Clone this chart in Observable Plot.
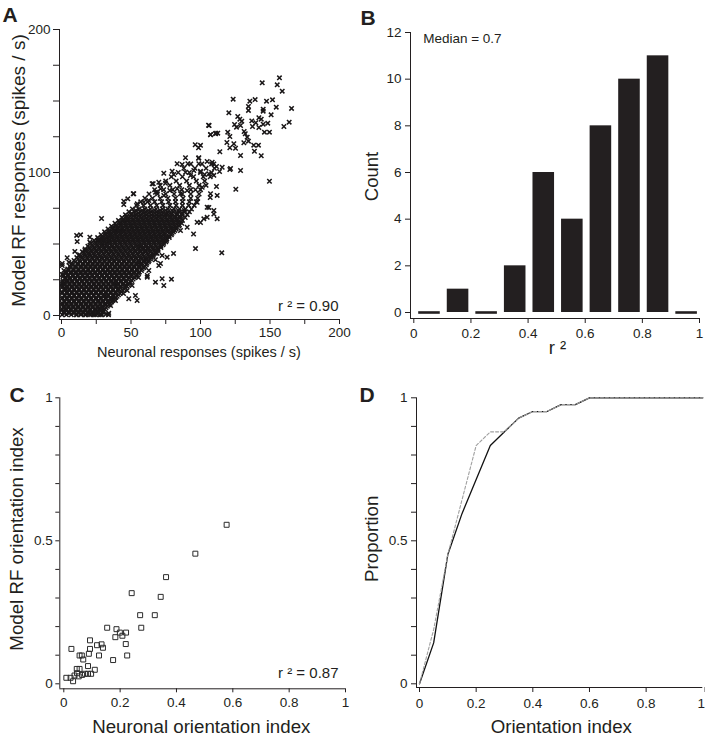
<!DOCTYPE html>
<html><head><meta charset="utf-8">
<script src="https://cdn.jsdelivr.net/npm/d3@7"></script>
<script src="https://cdn.jsdelivr.net/npm/@observablehq/plot@0.6"></script>
<style>
body{margin:0;background:#fff;}
#fig{position:relative;width:705px;height:736px;overflow:hidden;}
#fig > div{position:absolute;}
</style></head><body><div id="fig"></div>
<script>
// ---------- Panel A data: neuronal vs model RF responses (spikes/s) ----------
const aSparse = [
 [156.8,166.2],[144.4,162.7],[155.2,161.3],[158.8,156.9],[123.5,151.3],[135.5,149.9],[139.3,151],[147.5,149.9],[151.8,150.8],
 [134.5,146.2],[134.5,143.4],[145.1,144.3],[145.1,142.9],[154.5,145.7],[165.5,144.8],[120.4,141.7],[150.8,140.3],[126.8,139.2],
 [128.3,137.3],[129.7,135.9],[136.9,136.1],[139.8,134.8],[137.4,132.2],[142,138.3],[143.7,137.3],[145.1,133.8],[148.4,134.5],
 [142,131.5],[163.8,135.2],[160,132.2],[106.2,132.9],[124.5,133.6],[125.9,131.7],[128.8,132.9],[131.4,128.7],[132.2,127.1],
 [146,128.2],[149.6,128.2],[107.2,126.6],[111,127.5],[112.4,127.5],[119.6,128.2],[121.1,125.2],[133.6,124.7],[134.5,121.9],
 [124,120.1],[131.2,120.8],[125.2,117],[121.1,117.3],[138.3,119.1],[141.7,119.1],[138.8,114.9],[96.2,119.4],[98.6,117.3],
 [113.9,114.5],[128.8,111.9],[143.7,111.7],[98.6,110],[149.6,93.9],[125.4,88.3],[128.8,101.4],[121.1,102.1],
 [119,121],[100,119],[105.8,133],[121.6,102.8],[113.7,100.7],[109.6,98],[115.6,103.7],[109.6,106],[112,84],[107,82.5],
 [106,75.5],[109.6,71],[104.8,68.7],[100,65],[95,57],[96.4,46.8],[76,40.8],[61.7,28],[80.6,43.4],[85.6,59.4],[90.4,61.7],
 [68.8,43.4],[71.2,36.4],[59,33.6],[55.4,26.6],[50.8,21],[44.6,15.4],[38.8,10.5],[35.3,7],[30.2,3.5],
 [115.3,43.8],[79.1,25.4],[28.8,67.8],[33.8,0.5],
 [52,85.1],[44.8,77.6],[65.2,92.1],[68.8,86.2],[73.6,83.9],[13.7,56.4],[20.4,54.8],[20.4,51.3],[11.3,51.7],[25.7,52.4],
 [29.3,52.9],[29.3,50.1],[34,51.7],[9.6,44.8],[16.8,45.5],[19.6,43.6],[12.4,42],[4.1,40.4],[0.5,35],[1.7,31.5],[5.3,37.3],
 [0.5,28.7],[4.1,25],[0.5,22.2],[2.9,18.7],[67.6,44.3],[64,41.3],[72.4,42],[56.8,47.8],[60.4,45.5],[60.4,39],[55.6,36.6],
 [67.6,39],[70,35],[62.8,31.5],[61.7,26.8],[67.6,23.3],[72.4,25.7],[73.6,21],[38.8,22.2],[46,21],[41.2,18.7],[47.3,17.5],
 [53.2,14],[48.4,11.7],[54.4,10.5],[31.7,14],[36.5,11.7],[26.8,10.5],[19.6,5.8],[26.8,4.7],[34,1.6],[29.3,2.3],
 [11,0.6],[14,0.8],[17,0.6],[20,0.8],[23,0.6],[26,0.8],[29,0.6],[32,0.8],[10.9,56],[0.5,36.4],[35.3,56],[38.8,59.4],[44.6,66.4],[54.5,78.1],
 [107.2,126.4],[110.8,127.1],[89.2,110.3],[98.8,110.3],[83.2,106.1],[86.8,105.6],[90.9,106.1],[98.8,106.1],[104.8,107.7],
 [108.4,107.2],[111.5,104.2],[73.6,99.5],[79.6,100.9],[80.8,98.6],[89.2,100.2],[92.8,97.9],[95.2,101.4],[100,100.9],
 [102.9,98.6],[106,99.1],[66,92.1],[70,93.2],[74.8,92.5],[67.6,86.2],[71.2,88.6],[77.9,87.4],[83.2,88.6],[85.6,85.1],
 [90.4,87.4],[96.4,87.9],[101.2,89.7],[107.2,85.1],[111.5,90.2],[51.6,85.1],[44.8,79.9],[47.7,81.6],[59.2,79.2],[62.8,80.4],
 [97.6,79.2],[104.8,75.7],[109.6,73.4],[102.4,67.6],[97.6,65.2],[112,67.6],[47.3,66.9],[42.4,59.4],[50.1,62.9]
];
// dense core, one row per model-response level: [model, [neuronal values]]
const aDenseRows = [
 [0.5,[0.4,3.5,7,10.5,14,17.5,21,24.5,28]],
 [2.5,[1.5,5,8.5,12,15.5,19,22.5,26,30]],
 [4.5,[0.3,3,6.5,10,13.5,17,20.5,24,27.5,31]],
 [6.5,[1.8,5.2,8.7,12.2,15.6,19.1,22.6,26.1,29.6,33]],
 [8.5,[0.5,3.8,7.2,10.7,14.2,17.6,21.1,24.6,28,31.5,35]],
 [10.5,[2,5.5,9,12.5,16,19.5,23,26.5,30,33.5,37]],
 [12.5,[0.6,3.9,7.4,10.9,14.4,17.9,21.4,24.9,28.4,31.9,35.4,39]],
 [14.5,[2.2,5.7,9.2,12.7,16.2,19.7,23.2,26.7,30.2,33.7,37.2,41]],
 [16.5,[0.4,3.9,7.4,10.9,14.4,17.9,21.4,24.9,28.4,31.9,35.4,38.9,43]],
 [18.5,[2,5.6,9.1,12.6,16.1,19.6,23.1,26.6,30.1,33.6,37.1,40.6,45]],
 [20.5,[0.7,4,7.5,11,14.5,18,21.5,25,28.5,32,35.5,39,42.5,47]],
 [22.5,[2.3,5.8,9.3,12.8,16.3,19.8,23.3,26.8,30.3,33.8,37.3,40.8,44.5,48.5]],
 [24.5,[1,4.3,7.8,11.3,14.8,18.3,21.8,25.3,28.8,32.3,35.8,39.3,42.8,46.5,50.5]],
 [26.5,[2.8,6.3,9.8,13.3,16.8,20.3,23.8,27.3,30.8,34.3,37.8,41.3,44.8,48.5,52.5]],
 [28.5,[1.5,4.8,8.3,11.8,15.3,18.8,22.3,25.8,29.3,32.8,36.3,39.8,43.3,46.8,50.5,54.5]],
 [30.5,[3.5,7,10.5,14,17.5,21,24.5,28,31.5,35,38.5,42,45.5,49,52.5,56]],
 [32.5,[4.5,8.5,12.2,15.7,19.2,22.7,26.2,29.7,33.2,36.7,40.2,43.7,47.2,50.7,54.2,58]],
 [34.5,[6,10,13.8,17.3,20.8,24.3,27.8,31.3,34.8,38.3,41.8,45.3,48.8,52.3,56,60]],
 [36.5,[7.5,11.5,15.2,18.7,22.2,25.7,29.2,32.7,36.2,39.7,43.2,46.7,50.2,53.7,57.5,61.5]],
 [38.5,[9,13,16.8,20.3,23.8,27.3,30.8,34.3,37.8,41.3,44.8,48.3,51.8,55.3,59,63]],
 [40.5,[11,14.8,18.4,21.9,25.4,28.9,32.4,35.9,39.4,42.9,46.4,49.9,53.4,56.9,60.5,64.5]],
 [42.5,[13,16.6,20.1,23.6,27.1,30.6,34.1,37.6,41.1,44.6,48.1,51.6,55.1,58.6,62.2,66]],
 [44.5,[15,18.4,21.9,25.4,28.9,32.4,35.9,39.4,42.9,46.4,49.9,53.4,56.9,60.4,64,67.5]],
 [46.5,[17,20.5,24,27.5,31,34.5,38,41.5,45,48.5,52,55.5,59,62.5,66,69.5]],
 [48.5,[19,22.5,26,29.5,33,36.5,40,43.5,47,50.5,54,57.5,61,64.5,68,71.5]],
 [50.5,[21,24.6,28.1,31.6,35.1,38.6,42.1,45.6,49.1,52.6,56.1,59.6,63.1,66.6,70,73.5]],
 [52.5,[23.5,27,30.5,34,37.5,41,44.5,48,51.5,55,58.5,62,65.5,69,72.5,75.5]],
 [54.5,[26,29.5,33,36.5,40,43.5,47,50.5,54,57.5,61,64.5,68,71.5,75,77.5]],
 [56.5,[28.5,32,35.5,39,42.5,46,49.5,53,56.5,60,63.5,67,70.5,74,79]],
 [58.5,[31,34.5,38,41.5,45,48.5,52,55.5,59,62.5,66,69.5,73,76.5,80.5]],
 [60.5,[33.5,37,40.5,44,47.5,51,54.5,58,61.5,65,68.5,72,75.5,79,82.5]],
 [62.5,[36,39.5,43,46.5,50,53.5,57,60.5,64,67.5,71,74.5,78,81.5,84.5]],
 [64.5,[38.5,42,45.5,49,52.5,56,59.5,63,66.5,70,73.5,77,80.5,84,86.5]],
 [66.5,[41,44.5,48,51.5,55,58.5,62,65.5,69,72.5,76,79.5,83,87]],
 [68.5,[43.5,47,50.5,54,57.5,61,64.5,68,71.5,75,78.5,82,85.5,89]],
 [70.5,[46,50,53.5,57,61,64.5,68,72,75.5,79,83,86.5,90.5]],
 [72.5,[48.5,52.5,56.5,60.5,64.5,68.5,72.5,76.5,80.5,84.5,88,92]],
 [74.5,[51,55.5,60,64,68,72.5,76.5,81,85,89,93.5]],
 [77,[54,59,64,68.5,73,78,82.5,87,91.5,95.5]],
 [79.5,[57,62,67,72,77,82,87,92,97]],
 [82,[60,65.5,71,76.5,82,87.5,93,98]],
 [85,[63,69,75,81,87,93,99]],
 [88,[67,73.5,80,86.5,93,100]],
 [91,[71,78,85,92,99,104]],
 [94,[75,82.5,90,97,103]],
 [97,[79,87,95,102,107]],
 [100,[84,92,100,108]],
 [103,[88,96,104,110]],
 [106,[93,101,108]]
];
// further dense-core rows lying between the rows above
const aDenseRowsHalf = [
 [1.5,[2,5.5,9,12.5,16,19.5,23,26.5]],
 [3.5,[0.2,3.3,6.8,10.3,13.8,17.3,20.8,24.3,27.8]],
 [5.5,[1.6,4.8,8.3,11.8,15.3,18.8,22.3,25.8,29.3,32]],
 [7.5,[0.2,3.5,7,10.5,14,17.4,20.9,24.4,27.9,31.3,34]],
 [9.5,[2.2,5.5,9,12.4,15.9,19.4,22.8,26.3,29.8,33.2,36]],
 [11.5,[0.3,3.8,7.2,10.7,14.2,17.7,21.2,24.7,28.2,31.7,35.2,38]],
 [13.5,[2.3,5.6,9.1,12.6,16.1,19.6,23.1,26.6,30.1,33.6,37.1,40]],
 [15.5,[0.5,3.9,7.4,10.9,14.4,17.9,21.4,24.9,28.4,31.9,35.4,38.9,42]],
 [17.5,[2.1,5.6,9.1,12.6,16.1,19.6,23.1,26.6,30.1,33.6,37.1,40.6,44]],
 [19.5,[0.4,3.8,7.3,10.8,14.3,17.8,21.3,24.8,28.3,31.8,35.3,38.8,42.3,46]],
 [21.5,[2.4,5.7,9.2,12.7,16.2,19.7,23.2,26.7,30.2,33.7,37.2,40.7,44.2,48]],
 [23.5,[0.8,4,7.5,11,14.5,18,21.5,25,28.5,32,35.5,39,42.5,46,49.5]],
 [25.5,[2.6,6,9.5,13,16.5,20,23.5,27,30.5,34,37.5,41,44.5,48,51.5]],
 [27.5,[1.2,4.5,8,11.5,15,18.5,22,25.5,29,32.5,36,39.5,43,46.5,50,53.5]],
 [29.5,[3,6.5,10,13.5,17,20.5,24,27.5,31,34.5,38,41.5,45,48.5,52,55.5]],
 [31.5,[5.2,8.8,12.3,15.8,19.3,22.8,26.3,29.8,33.3,36.8,40.3,43.8,47.3,50.8,54.3,57.5]],
 [33.5,[6.5,10.2,13.9,17.4,20.9,24.4,27.9,31.4,34.9,38.4,41.9,45.4,48.9,52.4,55.9,59.2]],
 [35.5,[8,11.8,15.5,19,22.5,26,29.5,33,36.5,40,43.5,47,50.5,54,57.5,61]],
 [37.5,[9.8,13.5,17.1,20.6,24.1,27.6,31.1,34.6,38.1,41.6,45.1,48.6,52.1,55.6,59.1,62.5]],
 [39.5,[12,15.5,19,22.6,26.1,29.6,33.1,36.6,40.1,43.6,47.1,50.6,54.1,57.6,61.1,64]],
 [41.5,[13.8,17.4,20.9,24.4,27.9,31.4,34.9,38.4,41.9,45.4,48.9,52.4,55.9,59.4,62.9,65.8]],
 [43.5,[16,19.5,23,26.5,30,33.5,37,40.5,44,47.5,51,54.5,58,61.5,65,67.5]],
 [45.5,[17.8,21.3,24.8,28.3,31.8,35.3,38.8,42.3,45.8,49.3,52.8,56.3,59.8,63.3,66.8,69.5]],
 [47.5,[20,23.5,27,30.5,34,37.5,41,44.5,48,51.5,55,58.5,62,65.5,69,71.5]],
 [49.5,[22,25.5,29,32.5,36,39.5,43,46.5,50,53.5,57,60.5,64,67.5,71,73]],
 [51.5,[24.3,27.8,31.3,34.8,38.3,41.8,45.3,48.8,52.3,55.8,59.3,62.8,66.3,69.8,73.3,75]],
 [53.5,[26.8,30.3,33.8,37.3,40.8,44.3,47.8,51.3,54.8,58.3,61.8,65.3,68.8,72.3,75.8]],
 [55.5,[29.3,32.8,36.3,39.8,43.3,46.8,50.3,53.8,57.3,60.8,64.3,67.8,71.3,74.8,77.5]],
 [57.5,[31.8,35.3,38.8,42.3,45.8,49.3,52.8,56.3,59.8,63.3,66.8,70.3,73.8,77.3,79.5]],
 [59.5,[34.3,37.8,41.3,44.8,48.3,51.8,55.3,58.8,62.3,65.8,69.3,72.8,76.3,79.8,81.5]],
 [61.5,[36.8,40.3,43.8,47.3,50.8,54.3,57.8,61.3,64.8,68.3,71.8,75.3,78.8,82.3]],
 [63.5,[39.3,42.8,46.3,49.8,53.3,56.8,60.3,63.8,67.3,70.8,74.3,77.8,81.3,84.8]],
 [65.5,[41.8,45.3,48.8,52.3,55.8,59.3,62.8,66.3,69.8,73.3,76.8,80.3,83.8]],
 [67.5,[44.3,47.8,51.3,54.8,58.3,61.8,65.3,68.8,72.3,75.8,79.3,82.8,86.3]],
 [69.5,[47,51.5,55.5,59.5,63,66.5,70,74,78,81.5,85]],
 [71.5,[50.5,55,59,63,67,71,75,79,83,87]],
 [73.5,[53.5,58,62.5,67,71,75,79.5,84,88.5]]
];
const aTicks = [0,25,50,75,100,125,150,175,200];
const aXLabels = [0,50,100,150,200];
const aYLabels = [0,100,200];

// ---------- Panel B data: histogram of r^2 ----------
const bBinStarts = [0,0.1,0.2,0.3,0.4,0.5,0.6,0.7,0.8,0.9];
const bCounts    = [0,1,0,2,6,4,8,10,11,0];
const bYTicks = [0,2,4,6,8,10,12];
const unitTicks5 = [0,0.2,0.4,0.6,0.8,1];

// ---------- Panel C data: orientation index ----------
const cNeuronal = [0.578,0.467,0.363,0.241,0.344,0.271,0.323,0.275,0.154,0.187,0.199,0.183,0.208,0.221,0.220,0.225,0.175,
  0.093,0.093,0.118,0.134,0.139,0.125,0.027,0.089,0.056,0.064,0.069,0.086,0.056,0.047,0.053,0.075,0.086,0.097,0.110,0.038,0.024,0.009,0.033,0.046,0.065];
const cModel    = [0.556,0.455,0.373,0.317,0.304,0.240,0.240,0.196,0.196,0.191,0.179,0.163,0.168,0.179,0.139,0.099,0.083,
  0.152,0.122,0.135,0.138,0.126,0.099,0.122,0.105,0.099,0.099,0.085,0.062,0.052,0.037,0.026,0.035,0.035,0.035,0.049,0.029,0.021,0.021,0.009,0.052,0.031];
const unitTicks10 = [0,0.1,0.2,0.3,0.4,0.5,0.6,0.7,0.8,0.9,1];
const unitYLabels = [0,0.5,1];

// ---------- Panel D data: cumulative proportions ----------
const dIndex    = [0,0.05,0.1,0.15,0.2,0.25,0.3,0.35,0.4,0.45,0.5,0.55,0.6,0.65,0.7,0.75,0.8,0.85,0.9,0.95,1];
const dNeuronal = [0,0.143,0.452,0.595,0.714,0.833,0.881,0.929,0.952,0.952,0.976,0.976,1,1,1,1,1,1,1,1,1];
const dModel    = [0,0.190,0.452,0.643,0.833,0.881,0.881,0.929,0.952,0.952,0.976,0.976,1,1,1,1,1,1,1,1,1];

// ---------- drawing ----------
const ink = "#231f20";
const font = "'Liberation Sans', Arial, Helvetica, sans-serif";
const baseStyle = {fontFamily: font, fontSize: "13.5px", color: ink, background: "transparent", overflow: "visible"};
const fmt = d => String(+d.toFixed(1));
const fig = document.getElementById("fig");
function place(svg, left, top) {
  const d = document.createElement("div");
  d.style.left = left + "px"; d.style.top = top + "px";
  d.appendChild(svg); fig.appendChild(d);
}
function label(txt, dx, dy, opts = {}) {
  return Plot.text([txt], {frameAnchor: "top-left", dx, dy, fill: ink, textAnchor: "middle", lineAnchor: "middle", ...opts});
}
const letter = (t, dx, dy) => label(t, dx, dy, {fontSize: 21, fontWeight: "bold"});

const pointsA = aSparse.concat(
  aDenseRows.flatMap(([y, xs]) => xs.map(x => [x, y])),
  aDenseRowsHalf.flatMap(([y, xs]) => xs.map(x => [x, y]))
);

// Panel A
place(Plot.plot({
  width: 352, height: 368, marginLeft: 59, marginRight: 13, marginTop: 29, marginBottom: 49,
  x: {domain: [0, 200], insetLeft: 2},
  y: {domain: [0, 200], insetBottom: 4},
  style: baseStyle,
  marks: [
    Plot.dot(pointsA, {x: d => d[0], y: d => d[1], symbol: "times", r: 2.15, stroke: "#1a1718", strokeWidth: 1.5, fill: "none"}),
    Plot.ruleX([0], {dx: -2, stroke: ink}),
    Plot.ruleY([0], {dy: 4, stroke: ink}),
    Plot.axisX({ticks: aTicks, tickSize: 5, tickPadding: 3, tickFormat: d => aXLabels.includes(d) ? String(d) : "", label: null}),
    Plot.axisY({ticks: aTicks, tickSize: 6, tickPadding: 3, tickFormat: d => aYLabels.includes(d) ? String(d) : "", label: null}),
    label("Model RF responses (spikes / s)", -41, 141, {rotate: -90, fontSize: 19}),
    label("Neuronal responses (spikes / s)", 139.5, 323, {fontSize: 14.5}),
    label("r ² = 0.90", 279, 277, {textAnchor: "end", fontSize: 15}),
    letter("A", -49.5, -14.5)
  ]
}), 0, 0);

// Panel B
const binsB = bBinStarts.map((lo, i) => ({lo, hi: lo + 0.1, n: bCounts[i]}));
place(Plot.plot({
  width: 353, height: 368, marginLeft: 58, marginRight: 6, marginTop: 32, marginBottom: 50,
  x: {domain: [0, 1], insetLeft: 3.3},
  y: {domain: [0, 12], insetBottom: 6},
  style: baseStyle,
  marks: [
    Plot.rect(binsB.filter(d => d.n > 0), {x1: "lo", x2: "hi", y1: 0, y2: "n", insetLeft: 4.9, insetRight: 2.1, fill: ink}),
    Plot.ruleY(binsB.filter(d => d.n === 0), {x1: "lo", x2: "hi", y: 0, insetLeft: 4.9, insetRight: 2.1, stroke: ink, strokeWidth: 2.6}),
    Plot.ruleX([0], {dx: -3.3, stroke: ink}),
    Plot.ruleY([0], {dy: 6, stroke: ink}),
    Plot.axisX({ticks: unitTicks5, tickSize: 5, tickPadding: 5, tickFormat: fmt, label: null}),
    Plot.axisY({ticks: bYTicks, tickSize: 5, tickPadding: 4, label: null}),
    label("Count", -38.3, 144, {rotate: -90, fontSize: 18.5}),
    label("Median = 0.7", 12.7, 6, {textAnchor: "start", fontSize: 13.5}),
    label("r ²", 147, 316, {fontSize: 18.5}),
    letter("B", -42.5, -14.5)
  ]
}), 352, 0);

// Panel C
place(Plot.plot({
  width: 352, height: 368, marginLeft: 59.3, marginRight: 7, marginTop: 29.3, marginBottom: 47.7,
  x: {domain: [0, 1], insetLeft: 4},
  y: {domain: [0, 1], insetBottom: 5},
  style: baseStyle,
  marks: [
    Plot.dot(cNeuronal.map((x, i) => ({x, y: cModel[i]})), {x: "x", y: "y", symbol: "square", r: 2.8, stroke: "#2b2b2b", strokeWidth: 1, fill: "none"}),
    Plot.ruleX([0], {dx: -4, stroke: ink}),
    Plot.ruleY([0], {dy: 5, stroke: ink}),
    Plot.axisX({ticks: unitTicks5, tickSize: 4, tickPadding: 5, tickFormat: fmt, label: null}),
    Plot.axisY({ticks: unitTicks10, tickSize: 4, tickPadding: 3, tickFormat: d => unitYLabels.includes(d) ? fmt(d) : "", label: null}),
    label("Model RF orientation index", -42.6, 141.2, {rotate: -90, fontSize: 18.7}),
    label("Neuronal orientation index", 141.5, 329.4, {fontSize: 18.7}),
    label("r ² = 0.87", 278.7, 275.7, {textAnchor: "end", fontSize: 15}),
    letter("C", -42.8, -2.8)
  ]
}), 0, 368);

// Panel D
const linesD = dIndex.map((x, i) => ({x, neuronal: dNeuronal[i], model: dModel[i]}));
place(Plot.plot({
  width: 353, height: 368, marginLeft: 64, marginRight: 2.7, marginTop: 29.3, marginBottom: 49,
  x: {domain: [0, 1], insetLeft: 3},
  y: {domain: [0, 1], insetBottom: 3.7},
  style: baseStyle,
  marks: [
    Plot.line(linesD, {x: "x", y: "neuronal", stroke: "#111", strokeWidth: 1.3}),
    Plot.line(linesD, {x: "x", y: "model", stroke: "#a0a0a0", strokeWidth: 1.1, strokeDasharray: "3,2"}),
    Plot.ruleX([0], {dx: -3, stroke: ink}),
    Plot.ruleY([0], {dy: 3.7, stroke: ink}),
    Plot.axisX({ticks: unitTicks5.slice(0, 5), tickSize: 5, tickPadding: 6, tickFormat: fmt, label: null}),
    Plot.axisX({ticks: [1], tickSize: 5, tickPadding: 6, tickFormat: fmt, label: null, textAnchor: "end", dx: 2.3}),
    Plot.axisY({ticks: unitTicks10, tickSize: 5, tickPadding: 4, tickFormat: d => unitYLabels.includes(d) ? fmt(d) : "", label: null}),
    label("Proportion", -44.3, 141, {rotate: -90, fontSize: 18.7}),
    label("Orientation index", 144.8, 329.4, {fontSize: 18.7}),
    letter("D", -49.5, -2.8)
  ]
}), 352, 368);
</script></body></html>
